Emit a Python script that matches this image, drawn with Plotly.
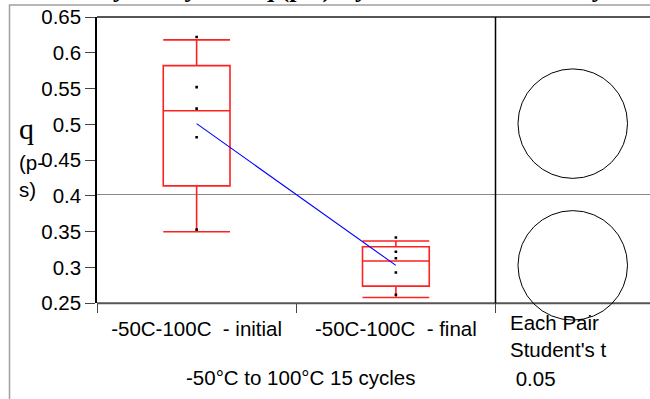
import plotly.graph_objects as go

# ---------------- data ----------------
categories = ["-50C-100C\u00a0\u00a0- initial", "-50C-100C\u00a0\u00a0- final"]
initial_points = [0.622, 0.552, 0.522, 0.482, 0.353]
final_points = [0.342, 0.322, 0.313, 0.293, 0.262]
q1_values = [0.414, 0.274]
median_values = [0.519, 0.309]
q3_values = [0.582, 0.329]
lower_whiskers = [0.350, 0.258]
upper_whiskers = [0.618, 0.337]
group_means = [0.501, 0.303]
circle_radius = [0.0765, 0.0765]
y_tick_values = [0.25, 0.3, 0.35, 0.4, 0.45, 0.5, 0.55, 0.6, 0.65]
y_tick_labels = ["0.25", "0.3", "0.35", "0.4", "0.45", "0.5", "0.55", "0.6", "0.65"]
y_range = [0.25, 0.65]
title_text = "Oneway Analysis of q (p-s) By -50°C to 100°C 15 cycles"
x_title = "-50°C to 100°C 15 cycles"
y_title_main = "q"
y_title_sub = "(p-<br>s)"
panel_lines = ["Each Pair", "Student's t", " 0.05"]

# ---------------- layout geometry ----------------
W, H = 650, 399
ML, MR, MT, MB = 97, 0, 17, 0
PW, PH = W - ML - MR, H - MT - MB
AX_BOTTOM_PX = 303.3
DIVIDER_PX = 495.5


def px(x):
    return (x - ML) / PW


def py(y):
    return (H - MB - y) / PH


x_split = px(DIVIDER_PX)
y_dom_bottom = py(AX_BOTTOM_PX)
px_per_unit = (AX_BOTTOM_PX - MT) / (y_range[1] - y_range[0])
y2_bottom = y_range[1] - PH / px_per_unit
panel_half = (W - DIVIDER_PX) / px_per_unit / 2

SANS = "Liberation Sans, Arial, sans-serif"
SERIF = "Liberation Serif, Times New Roman, serif"
FS = 20.5

fig = go.Figure()

fig.add_trace(go.Box(
    x=categories,
    q1=q1_values, median=median_values, q3=q3_values,
    lowerfence=lower_whiskers, upperfence=upper_whiskers,
    boxpoints=False, whiskerwidth=1, width=0.335,
    line=dict(color="#ff2020", width=1.6),
    fillcolor="rgba(0,0,0,0)",
    showlegend=False, hoverinfo="skip",
))

fig.add_trace(go.Scatter(
    x=[categories[0]] * len(initial_points) + [categories[1]] * len(final_points),
    y=initial_points + final_points,
    mode="markers",
    marker=dict(symbol="square", size=2.6, color="black", line=dict(width=0)),
    showlegend=False, hoverinfo="skip",
))

fig.add_trace(go.Scatter(
    x=categories, y=group_means, mode="lines",
    line=dict(color="#0000ff", width=1.1),
    showlegend=False, hoverinfo="skip",
))

# invisible trace to establish the comparison-circle panel
fig.add_trace(go.Scatter(
    x=[0, 0], y=group_means, xaxis="x2", yaxis="y2", mode="markers",
    marker=dict(opacity=0), showlegend=False, hoverinfo="skip",
))

grand_mean = sum(group_means) / len(group_means)

shapes = [
    # outer gray frame
    dict(type="rect", xref="paper", yref="paper", x0=px(9.5), x1=px(720), y0=py(5), y1=py(460),
         line=dict(color="#a0a0a0", width=1.5), layer="below"),
    # grand mean line
    dict(type="line", xref="paper", yref="y", x0=0, x1=1, y0=grand_mean, y1=grand_mean,
         line=dict(color="#8a8a8a", width=1), layer="below"),
    # top frame line
    dict(type="line", xref="paper", yref="paper", x0=0, x1=1, y0=1, y1=1,
         line=dict(color="#555555", width=2)),
    # bottom axis line
    dict(type="line", xref="paper", yref="paper", x0=0, x1=1, y0=y_dom_bottom, y1=y_dom_bottom,
         line=dict(color="#555555", width=2)),
    # divider
    dict(type="line", xref="paper", yref="paper", x0=x_split, x1=x_split, y0=y_dom_bottom, y1=1,
         line=dict(color="black", width=1.5)),
]
for m, r in zip(group_means, circle_radius):
    shapes.append(dict(type="circle", xref="x2", yref="y2", x0=-r, x1=r, y0=m - r, y1=m + r,
                       line=dict(color="black", width=1)))

annotations = [
    dict(text=f"<b>{title_text}</b>", xref="paper", yref="paper", x=px(340), y=py(5),
         xanchor="center", yanchor="bottom", showarrow=False,
         font=dict(family=SERIF, size=26, color="black")),
    dict(text=y_title_main, xref="paper", yref="paper", x=px(26), y=py(128),
         xanchor="center", yanchor="middle", showarrow=False,
         font=dict(family=SERIF, size=30, color="black")),
    dict(text=y_title_sub, xref="paper", yref="paper", x=px(17), y=py(149),
         xanchor="left", yanchor="top", align="left", showarrow=False,
         font=dict(family=SANS, size=FS, color="black")),
    dict(text=x_title, xref="paper", yref="paper", x=px(300), y=py(377),
         xanchor="center", yanchor="middle", showarrow=False,
         font=dict(family=SANS, size=FS, color="black")),
]
for txt, yc, xl in zip(panel_lines, [322, 349, 378], [508, 508, 508]):
    annotations.append(dict(text=txt.replace(" ", "\u00a0"), xref="paper", yref="paper", x=px(xl), y=py(yc),
                            xanchor="left", yanchor="middle", showarrow=False,
                            font=dict(family=SANS, size=FS, color="black")))

fig.update_layout(
    width=W, height=H,
    margin=dict(l=ML, r=MR, t=MT, b=MB, pad=0, autoexpand=False),
    paper_bgcolor="white", plot_bgcolor="white",
    showlegend=False,
    xaxis=dict(
        domain=[0, x_split], anchor="y", type="category",
        categoryorder="array", categoryarray=categories,
        range=[-0.5, 1.5], tickson="boundaries", automargin=False,
        ticks="outside", ticklen=9, tickcolor="#444", tickwidth=1.2,
        ticklabelstandoff=11,
        showline=False, showgrid=False, zeroline=False,
        tickfont=dict(family=SANS, size=FS, color="black"),
    ),
    yaxis=dict(
        domain=[y_dom_bottom, 1], anchor="x", range=y_range, automargin=False,
        tickvals=y_tick_values, ticktext=y_tick_labels,
        ticks="outside", ticklen=10, tickcolor="#444", tickwidth=1.2,
        showline=True, linecolor="black", linewidth=1.5,
        showgrid=False, zeroline=False,
        tickfont=dict(family=SANS, size=FS, color="black"),
    ),
    xaxis2=dict(domain=[x_split, 1], anchor="y2", range=[-panel_half, panel_half],
                visible=False, automargin=False),
    yaxis2=dict(domain=[0, 1], anchor="x2", range=[y2_bottom, y_range[1]],
                visible=False, automargin=False),
    shapes=shapes,
    annotations=annotations,
)

fig.write_html("out.html")
